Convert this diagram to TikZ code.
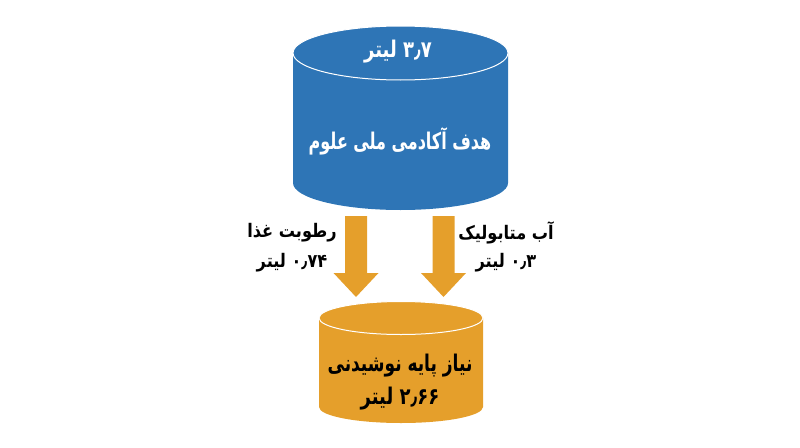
\documentclass[tikz,border=0pt]{standalone}
\usepackage{fontspec}
\TeXXeTstate=1
\newfontfamily\arabicfont[Script=Arabic]{DejaVu Sans}
\definecolor{cylblue}{HTML}{2E75B6}
\definecolor{cylorange}{HTML}{E59F2B}
\tikzset{
  fa/.style={font=\arabicfont\bfseries, inner sep=0pt, align=center},
  falarge/.style={fa, font=\arabicfont\bfseries\fontsize{20}{24}\selectfont, yscale=1.15},
  fasmall/.style={fa, font=\arabicfont\bfseries\fontsize{17}{30}\selectfont, yscale=1.1},
  blockarrow/.style={fill=cylorange},
}
\begin{document}
\begin{tikzpicture}[x=1pt,y=-1pt]
\useasboundingbox (0,0) rectangle (800,447);
% top cylinder
\fill[cylblue] (293,53) -- (293,183) arc[start angle=180,end angle=0,x radius=107.5,y radius=27] -- (508,53) arc[start angle=0,end angle=-180,x radius=107.5,y radius=27] -- cycle;
\draw[white, line width=1pt] (400.5,53) ellipse[x radius=107.5,y radius=27];
% bottom cylinder
\fill[cylorange] (319,318) -- (319,407) arc[start angle=180,end angle=0,x radius=82,y radius=16] -- (483,318) arc[start angle=0,end angle=-180,x radius=82,y radius=16.5] -- cycle;
\draw[white, line width=1pt] (401,318) ellipse[x radius=82,y radius=16.5];
% texts
\node[falarge, text=white, xscale=0.9] (toplit) at (398,52) {\beginR\beginL ۳٫۷\endL{} لیتر\endR};
\node[falarge, text=white, xscale=0.8] (topname) at (400,141) {\beginR هدف آکادمی ملی علوم\endR};
\node[falarge, text=black, xscale=0.85] (botname) at (400,366) {\beginR نیاز پایه نوشیدنی\endR};
\node[falarge, text=black, xscale=0.9] (botlit) at (400,399) {\beginR\beginL ۲٫۶۶\endL{} لیتر\endR};
\node[fasmall, text=black, xscale=0.95] (lab1) at (292,233) {\beginR رطوبت غذا\endR};
\node[fasmall, text=black, xscale=0.95] (lab1b) at (292,263) {\beginR\beginL ۰٫۷۴\endL{} لیتر\endR};
\node[fasmall, text=black, xscale=0.95] (lab2) at (506,233) {\beginR آب متابولیک\endR};
\node[fasmall, text=black, xscale=0.95] (lab2b) at (506,263) {\beginR\beginL ۰٫۳\endL{} لیتر\endR};
% arrows
\coordinate (arrL) at (356,216);
\coordinate (arrR) at (443.5,216);
\fill[blockarrow] (arrL) ++(-11,0) -- ++(22,0) -- ++(0,57) -- ++(11.5,0) -- ++(-22.5,24) -- ++(-22.5,-24) -- ++(11.5,0) -- cycle;
\fill[blockarrow] (arrR) ++(-11,0) -- ++(22,0) -- ++(0,57) -- ++(11.5,0) -- ++(-22.5,24) -- ++(-22.5,-24) -- ++(11.5,0) -- cycle;
\end{tikzpicture}
\end{document}
